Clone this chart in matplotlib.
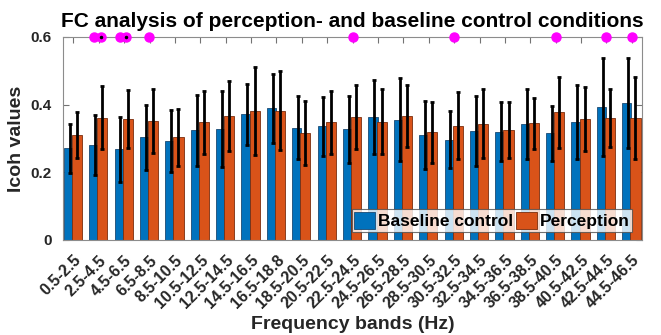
import numpy as np
import matplotlib
matplotlib.use('Agg')
import matplotlib.pyplot as plt

plt.rcParams['font.family'] = ['Liberation Sans', 'DejaVu Sans']
plt.rcParams['font.weight'] = 'bold'

bands = ['0.5-2.5', '2.5-4.5', '4.5-6.5', '6.5-8.5', '8.5-10.5', '10.5-12.5',
         '12.5-14.5', '14.5-16.5', '16.5-18.8', '18.5-20.5', '20.5-22.5',
         '22.5-24.5', '24.5-26.5', '26.5-28.5', '28.5-30.5', '30.5-32.5',
         '32.5-34.5', '34.5-36.5', '36.5-38.5', '38.5-40.5', '40.5-42.5',
         '42.5-44.5', '44.5-46.5']

# mean Icoh values
baseline = [0.271, 0.281, 0.268, 0.303, 0.292, 0.325, 0.328, 0.371, 0.389,
            0.332, 0.336, 0.327, 0.363, 0.356, 0.310, 0.296, 0.323, 0.320,
            0.343, 0.315, 0.348, 0.393, 0.404]
perception = [0.310, 0.362, 0.358, 0.352, 0.303, 0.348, 0.367, 0.380, 0.382,
              0.317, 0.348, 0.363, 0.350, 0.367, 0.318, 0.338, 0.344, 0.325,
              0.345, 0.377, 0.358, 0.360, 0.360]

# standard deviations
baseline_err = [0.072, 0.089, 0.096, 0.095, 0.092, 0.105, 0.112, 0.091, 0.101,
                0.094, 0.088, 0.099, 0.110, 0.122, 0.100, 0.084, 0.104, 0.088,
                0.104, 0.081, 0.110, 0.145, 0.133]
perception_err = [0.069, 0.092, 0.085, 0.095, 0.085, 0.093, 0.104, 0.130, 0.117,
                  0.094, 0.093, 0.095, 0.095, 0.091, 0.089, 0.099, 0.101, 0.082,
                  0.076, 0.106, 0.094, 0.085, 0.121]

# significant differences (marker positions along the band axis)
sig_x = [1.82, 2.09, 2.84, 3.07, 3.98, 12, 16, 20, 22, 23]
sig_dot_x = [2.09, 3.07]

blue = '#0072BD'
orange = '#D95319'

x = np.arange(1, len(bands) + 1)

fig = plt.figure(figsize=(6.61, 3.35), dpi=100)
ax = fig.add_axes([0.0953, 0.2836, 0.876, 0.606])

ax.bar(x - 0.2, baseline, width=0.36, color=blue, edgecolor='#1a4a73',
       linewidth=0.6, label='Baseline control', zorder=2)
ax.bar(x + 0.14, perception, width=0.4, color=orange, edgecolor='#7a2e0e',
       linewidth=0.6, label='Perception', zorder=2)
ax.errorbar(x - 0.15, baseline, yerr=baseline_err, fmt='none', ecolor='black',
            elinewidth=2, capsize=1.5, capthick=2, zorder=3)
ax.errorbar(x + 0.14, perception, yerr=perception_err, fmt='none', ecolor='black',
            elinewidth=2, capsize=1.5, capthick=2, zorder=3)

ax.plot(sig_x, [0.6] * len(sig_x), 'o', color='magenta', markersize=6.5,
        clip_on=False, zorder=5)
ax.plot(sig_dot_x, [0.6] * len(sig_dot_x), '.', color='black', markersize=3,
        clip_on=False, zorder=6)

ax.set_xlim(0.59, 23.4)
ax.set_ylim(0, 0.6)
ax.set_yticks([0, 0.2, 0.4, 0.6])
ax.set_yticklabels(['0', '0.2', '0.4', '0.6'])
ax.set_xticks(x)
ax.set_xticklabels(bands, rotation=45, ha='right', va='top',
                   rotation_mode='anchor', fontsize=11.5)
ax.tick_params(axis='y', labelsize=11, pad=8)
ax.tick_params(axis='x', pad=9)
ax.tick_params(direction='in', top=True, right=True, length=4, color='0.45',
               labelcolor='#262626')
for s in ax.spines.values():
    s.set_color('0.55')
    s.set_linewidth(0.8)

ax.set_title('FC analysis of perception- and baseline control conditions',
             fontsize=15, fontweight='bold', pad=7)
ax.set_ylabel('Icoh values', fontsize=14, fontweight='bold', color='#262626',
              labelpad=4)
ax.set_xlabel('Frequency bands (Hz)', fontsize=14, fontweight='bold',
              color='#262626', labelpad=3)

leg = ax.legend(loc='lower right', bbox_to_anchor=(0.983, 0.039), ncol=2,
                fontsize=12.5, frameon=True, fancybox=False, borderaxespad=0,
                handlelength=1.2, handleheight=1.15, handletextpad=0.15,
                columnspacing=0.2, borderpad=0.15)
leg.get_frame().set_edgecolor('0.3')
leg.get_frame().set_linewidth(0.8)
leg.set_zorder(10)

fig.savefig('out.png', dpi=100)
